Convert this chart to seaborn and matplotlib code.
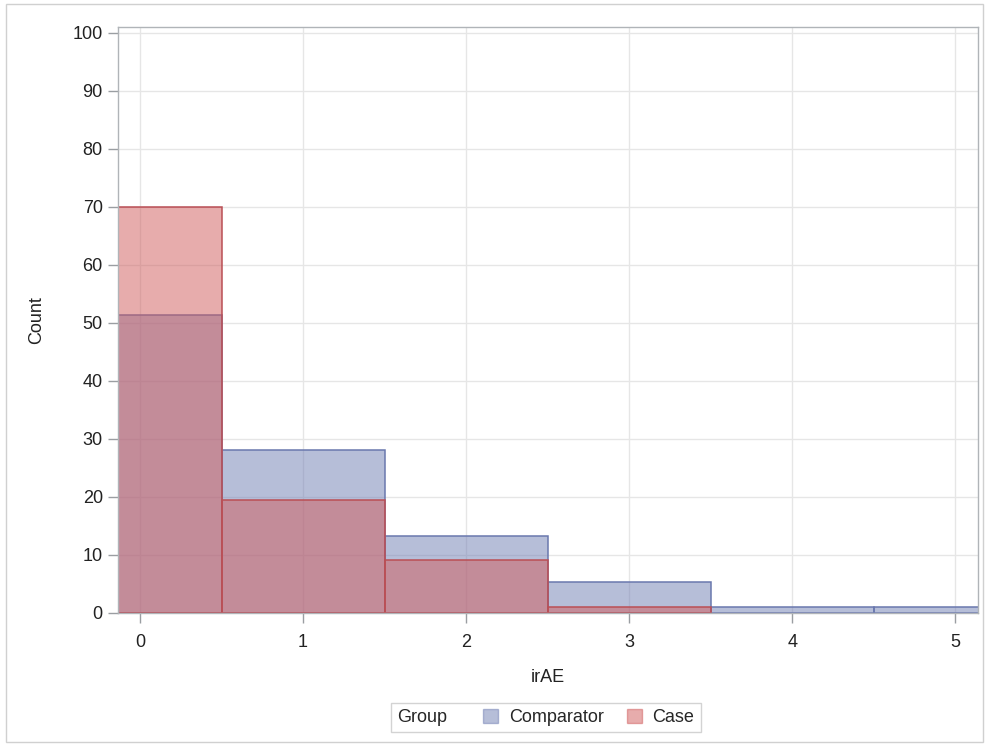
import matplotlib
matplotlib.use("Agg")
import matplotlib.pyplot as plt
import seaborn as sns
import pandas as pd
from matplotlib.patches import Patch, Rectangle
from matplotlib.offsetbox import HPacker

# 데이터
irae_levels = [0, 1, 2, 3, 4, 5]
comparator_counts = [51.4, 28.1, 13.3, 5.3, 1.1, 1.1]
case_counts = [70.0, 19.5, 9.1, 1.0, 0.0, 0.0]
groups = ["Comparator", "Case"]

blue = "#6F7EB3"
red = "#D05B5B"

df = pd.DataFrame({
    "irAE": irae_levels * 2,
    "Count": comparator_counts + case_counts,
    "Group": ["Comparator"] * 6 + ["Case"] * 6,
})
# 빈 막대(0)는 그리지 않음
df = df[df["Count"] > 0]

sns.set_style("white")
plt.rcParams["font.family"] = ["Liberation Sans", "DejaVu Sans"]

fs = 13
fig = plt.figure(figsize=(9.87, 7.45), dpi=100)
ax = fig.add_axes([0.1196, 0.1772, 0.8714, 0.7866])

sns.histplot(data=df[df["Group"] == "Comparator"], x="irAE", weights="Count",
             discrete=True, color=blue, alpha=0.5, edgecolor="#6A78AE", linewidth=1.1, ax=ax)
sns.histplot(data=df[df["Group"] == "Case"], x="irAE", weights="Count",
             discrete=True, color=red, alpha=0.5, edgecolor="#BA4F55", linewidth=1.1, ax=ax)

ax.set_xlim(-0.135, 5.14)
ax.set_ylim(0, 101)
ax.set_xticks(irae_levels)
ax.set_yticks(range(0, 101, 10))
ax.grid(True, color="#e6e6e6", linewidth=1)
ax.set_axisbelow(True)
for s in ax.spines.values():
    s.set_color("#b0b4b8")
    s.set_linewidth(1)
ax.tick_params(axis="both", bottom=True, left=True, direction="out", length=7, width=1,
               color="#9a9ea2", labelsize=fs, labelcolor="#222222")
ax.tick_params(axis="x", pad=8)
ax.tick_params(axis="y", pad=4)
ax.set_xlabel("irAE", fontsize=fs, color="#222222", labelpad=13)
ax.set_ylabel("Count", fontsize=fs, color="#222222", labelpad=20)

# 범례
handles = [Patch(facecolor=blue, alpha=0.5, edgecolor=blue),
           Patch(facecolor=red, alpha=0.5, edgecolor=red)]
leg = fig.legend(handles, groups, ncol=2, title="Group", loc="center",
                 bbox_to_anchor=(0.553, 0.037), fontsize=fs, title_fontsize=fs,
                 frameon=True, fancybox=False, edgecolor="#c8c8c8",
                 handlelength=0.8, handleheight=0.8, handletextpad=0.6,
                 columnspacing=1.3, borderpad=0.35)
leg.get_frame().set_linewidth(1)
try:
    box = HPacker(pad=leg.borderpad * fs, sep=2.0 * fs, align="center",
                  children=[leg._legend_title_box, leg._legend_handle_box])
    box.set_figure(fig)
    box.axes = leg.axes
    box.set_offset(leg._findoffset)
    leg._legend_box = box
except Exception:
    pass

fig.patches.append(Rectangle((0.006, 0.004), 0.99, 0.99, transform=fig.transFigure,
                             fill=False, edgecolor="#d0d0d0", linewidth=1))

fig.savefig("out.png", dpi=100)
